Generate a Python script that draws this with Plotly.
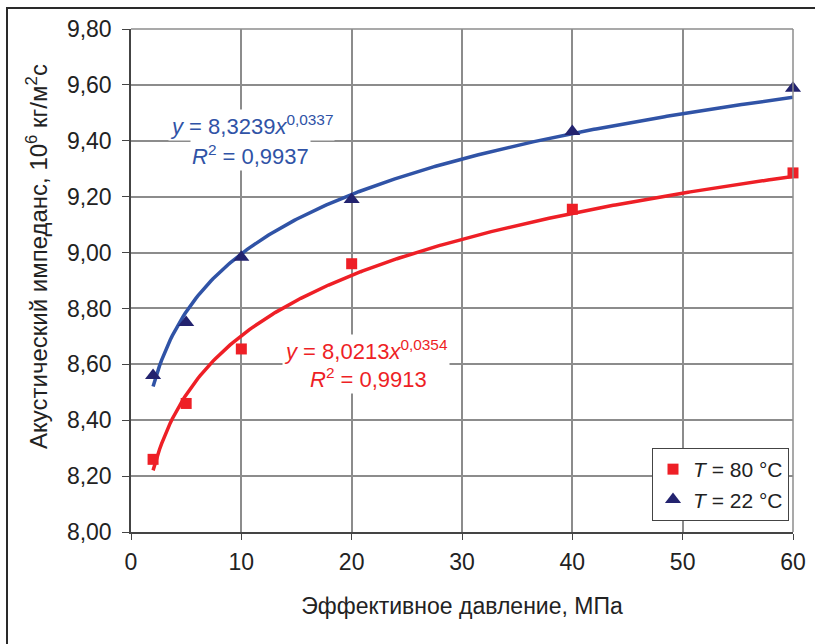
import numpy as np
import plotly.graph_objects as go

# Measured points
pressure = [2, 5, 10, 20, 40, 60]
z_80 = [8.26, 8.46, 8.655, 8.96, 9.155, 9.285]
z_22 = [8.56, 8.75, 8.983, 9.19, 9.433, 9.588]

# Power-law trend coefficients (y = a * x^b)
fit_80 = (8.0213, 0.0354)
fit_22 = (8.3239, 0.0337)

x_ticks = [0, 10, 20, 30, 40, 50, 60]
y_ticks = [8.0, 8.2, 8.4, 8.6, 8.8, 9.0, 9.2, 9.4, 9.6, 9.8]

RED = "#EE1F26"
BLUE = "#3053A6"
NAVY = "#23236F"
FONT = "Liberation Sans, Arial, sans-serif"

xs = np.linspace(min(pressure), max(pressure), 300)

fig = go.Figure()

fig.add_trace(go.Scatter(x=xs, y=fit_80[0] * xs ** fit_80[1], mode="lines",
                         line=dict(color=RED, width=3.5), showlegend=False,
                         hoverinfo="skip"))
fig.add_trace(go.Scatter(x=xs, y=fit_22[0] * xs ** fit_22[1], mode="lines",
                         line=dict(color=BLUE, width=3.5), showlegend=False,
                         hoverinfo="skip"))
fig.add_trace(go.Scatter(x=pressure, y=z_80, mode="markers", cliponaxis=False,
                         marker=dict(symbol="square", size=11, color=RED),
                         name="<i>T</i> = 80 °C"))
fig.add_trace(go.Scatter(x=pressure, y=z_22, mode="markers", cliponaxis=False,
                         marker=dict(symbol="triangle-up", size=14, color=NAVY),
                         name="<i>T</i> = 22 °C"))

# Trend equations
eq = [
    (10.95, 9.456, "<i>y</i> = 8,3239<i>x</i><sup>0,0337</sup>", BLUE),
    (10.8, 9.349, "<i>R</i><sup>2</sup> = 0,9937", BLUE),
    (21.3, 8.651, "<i>y</i> = 8,0213<i>x</i><sup>0,0354</sup>", RED),
    (21.5, 8.551, "<i>R</i><sup>2</sup> = 0,9913", RED),
]
for ex, ey, txt, col in eq:
    fig.add_annotation(x=ex, y=ey, text=txt, showarrow=False,
                       font=dict(family=FONT, size=22, color=col),
                       bgcolor="white", xanchor="center", yanchor="middle")

# Page layout in pixels
L, R, T, B = 131, 22, 29, 112
W, H = 815, 644
pw, ph = W - L - R, H - T - B

# Vertical axis title
fig.add_annotation(xref="paper", yref="paper", x=(37 - L) / pw, y=(H - B - 257) / ph,
                   text="Акустический импеданс, 10<sup>6</sup> кг/м<sup>2</sup>с",
                   textangle=-90, showarrow=False, xanchor="center", yanchor="middle",
                   font=dict(family=FONT, size=24, color="#222222"))

# Outer frame around the chart
fig.add_shape(type="rect", xref="paper", yref="paper",
              x0=(7 - L) / pw, x1=(W + 20 - L) / pw,
              y0=(H - B - (H + 20)) / ph, y1=(H - B - 8) / ph,
              line=dict(color="#2a2a2a", width=2), layer="below")

fig.update_layout(
    width=W, height=H,
    margin=dict(l=L, r=R, t=T, b=B, autoexpand=False),
    paper_bgcolor="white", plot_bgcolor="white",
    separators=", ",
    font=dict(family=FONT, size=23, color="#222222"),
    showlegend=True,
    legend=dict(x=(652 - L) / pw, y=(H - B - 448) / ph, xanchor="left", yanchor="top",
                bordercolor="#444444", borderwidth=1, bgcolor="white",
                font=dict(family=FONT, size=21, color="#222222"),
                itemsizing="trace", tracegroupgap=4),
)

fig.update_xaxes(range=[0, 60], tickvals=x_ticks, tickformat="d", automargin=False,
                 showgrid=True, gridcolor="#8c8c8c", gridwidth=1.5,
                 showline=True, linecolor="#444444", linewidth=1.5, mirror=False,
                 ticks="outside", ticklen=6, tickcolor="#444444",
                 ticklabelstandoff=3, zeroline=False,
                 title=dict(text="Эффективное давление, МПа", standoff=24,
                            font=dict(family=FONT, size=23)))
fig.update_yaxes(range=[8.0, 9.8], tickvals=y_ticks, tickformat=".2f", automargin=False,
                 showgrid=True, gridcolor="#8c8c8c", gridwidth=1.5,
                 showline=True, linecolor="#444444", linewidth=1.5,
                 ticks="outside", ticklen=7, tickcolor="#444444",
                 ticklabelstandoff=6, zeroline=False)

# Right and top edges of the plot area in grid colour
fig.add_shape(type="line", xref="paper", yref="paper", x0=1, x1=1, y0=0, y1=1,
              line=dict(color="#8c8c8c", width=1.5))
fig.add_shape(type="line", xref="paper", yref="paper", x0=0, x1=1, y0=1, y1=1,
              line=dict(color="#8c8c8c", width=1.5))

fig.write_html("out.html")
